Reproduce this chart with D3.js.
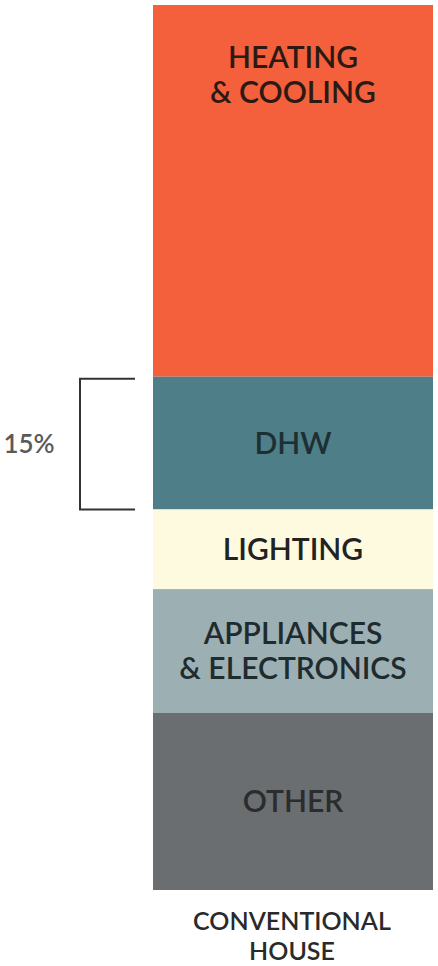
<!DOCTYPE html>
<html>
<head>
<meta charset="utf-8">
<script src="https://cdn.jsdelivr.net/npm/d3@7"></script>
<style>
  html, body { margin: 0; padding: 0; background: #ffffff; }
  svg { display: block; font-family: Lato, "Open Sans", sans-serif; }
</style>
</head>
<body>
<svg id="chart" width="438" height="966"></svg>
<script>
// End-use shares of a conventional house, top to bottom (percent)
const categories = ["HEATING\n& COOLING", "DHW", "LIGHTING", "APPLIANCES\n& ELECTRONICS", "OTHER"];
const shares = [42, 15, 9, 14, 20];
const colors = ["#F4603C", "#4E7F88", "#FEFADF", "#9CB0B4", "#6B6E70"];
const labelColors = ["#2b1a14", "#1d2f33", "#222222", "#1f2b2e", "#2a2c2e"];
const houseLabel = ["CONVENTIONAL", "HOUSE"];
const bracketIndex = 1; // segment annotated with a bracket
const bracketLabel = "15%";

const svg = d3.select("#chart");

const y = d3.scaleLinear().domain([0, d3.sum(shares)]).range([5, 890]);
const x = d3.scaleBand().domain(["house"]).range([153, 433]).padding(0);

// cumulative offsets for the single stacked column
const row = {};
categories.forEach((c, i) => row[c] = shares[i]);
const stack = d3.stack().keys(categories)([row]);

const g = svg.append("g");

g.selectAll("rect.seg")
  .data(stack)
  .join("rect")
  .attr("class", "seg")
  .attr("x", x("house"))
  .attr("width", x.bandwidth())
  .attr("y", d => y(d[0][0]))
  .attr("height", d => y(d[0][1]) - y(d[0][0]))
  .attr("fill", (d, i) => colors[i]);

// segment labels, one tspan per line
const lineH = 35;
g.selectAll("text.seg")
  .data(stack)
  .join("text")
  .attr("class", "seg")
  .attr("text-anchor", "middle")
  .attr("font-size", 30)
  .attr("font-weight", 600)
  .attr("fill", (d, i) => labelColors[i])
  .each(function(d, i) {
    const lines = categories[i].split("\n");
    const cx = x("house") + x.bandwidth() / 2;
    const top = y(d[0][0]);
    // heating label sits near the top of its tall block
    const cy = i === 0 ? top + 70 : (top + y(d[0][1])) / 2;
    const t = d3.select(this);
    lines.forEach((ln, k) => {
      t.append("tspan")
        .attr("x", cx)
        .attr("y", cy + (k - (lines.length - 1) / 2) * lineH)
        .attr("dy", "0.35em")
        .text(ln);
    });
  });

// bracket beside the DHW block
const b = stack[bracketIndex][0];
const by0 = y(b[0]) + 2, by1 = y(b[1]);
svg.append("path")
  .attr("d", `M135,${by0} H80 V${by1} H135`)
  .attr("fill", "none")
  .attr("stroke", "#333333")
  .attr("stroke-width", 2);

svg.append("text")
  .attr("x", 29)
  .attr("y", (by0 + by1) / 2)
  .attr("dy", "0.35em")
  .attr("text-anchor", "middle")
  .attr("font-size", 26)
  .attr("font-weight", 600)
  .attr("fill", "#5a5a5a")
  .text(bracketLabel);

// column caption
svg.append("text")
  .attr("text-anchor", "middle")
  .attr("font-size", 25)
  .attr("font-weight", 600)
  .attr("fill", "#2a2a2a")
  .selectAll("tspan")
  .data(houseLabel)
  .join("tspan")
  .attr("x", x("house") + x.bandwidth() / 2 - 1)
  .attr("y", (d, i) => 921 + i * 30)
  .attr("dy", "0.35em")
  .text(d => d);
</script>
</body>
</html>
